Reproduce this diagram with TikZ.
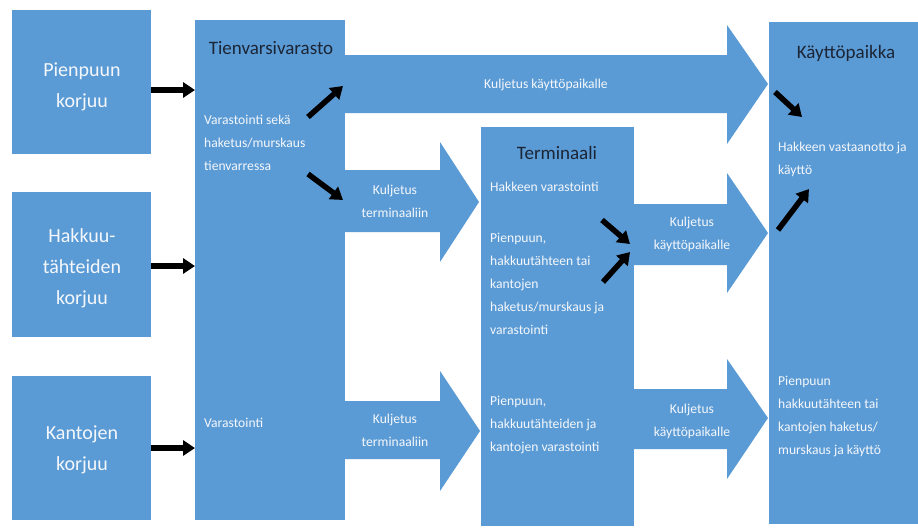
\documentclass[tikz,border=0pt]{standalone}
\usepackage{fontspec}
\setmainfont{Carlito}
\usetikzlibrary{arrows.meta}
\definecolor{boxblue}{HTML}{5B9BD5}
\definecolor{titlecol}{HTML}{1B2535}
\definecolor{txtcol}{HTML}{F4F7FB}
\begin{document}
\begin{tikzpicture}[x=1pt,y=-1pt,
  box/.style={fill=boxblue,draw=none,inner sep=0pt,anchor=north west},
  bigarrow/.style={fill=boxblue,draw=none},
  bigtxt/.style={text=txtcol,font=\fontsize{20}{31}\selectfont,align=center,inner sep=0pt},
  titletxt/.style={text=titlecol,font=\fontsize{19}{22}\selectfont,inner sep=0pt},
  smalltxt/.style={text=txtcol,font=\fontsize{13.6}{23}\selectfont,align=left,inner sep=0pt,anchor=west},
  ctrtxt/.style={text=txtcol,font=\fontsize{13.6}{23}\selectfont,align=center,inner sep=0pt},
  blk/.style={draw=black,line width=5.5pt,-{Triangle[length=12pt,width=15pt]}}
]
\useasboundingbox (0,0) rectangle (918,528);
\fill[white] (0,0) rectangle (918,528);

% big arrows
\fill[bigarrow] (345,55) -- (727,55) -- (727,25) -- (768,84) -- (727,144) -- (727,113) -- (345,113) -- cycle;
\fill[bigarrow] (345,170) -- (440,170) -- (440,142) -- (479,202) -- (440,262) -- (440,232) -- (345,232) -- cycle;
\fill[bigarrow] (634,204) -- (727,204) -- (727,173) -- (768,233) -- (727,293) -- (727,265) -- (634,265) -- cycle;
\fill[bigarrow] (345,401) -- (440,401) -- (440,371) -- (480,431) -- (440,491) -- (440,459) -- (345,459) -- cycle;
\fill[bigarrow] (634,389) -- (727,389) -- (727,359) -- (768,418) -- (727,479) -- (727,449) -- (634,449) -- cycle;

% boxes
\node[box,minimum width=139pt,minimum height=144pt] (pien) at (12,10) {};
\node[box,minimum width=139pt,minimum height=145pt] (hakk) at (12,192) {};
\node[box,minimum width=139pt,minimum height=144pt] (kant) at (12,376) {};
\node[box,minimum width=150pt,minimum height=500pt] (tien) at (195,20) {};
\node[box,minimum width=153pt,minimum height=399pt] (term) at (481,127) {};
\node[box,minimum width=149pt,minimum height=502pt] (kayt) at (769,22) {};

% box texts
\node[bigtxt] (tpien) at (82,87) {Pienpuun\\korjuu};
\node[bigtxt] (thakk) at (82,268) {Hakkuu-\\tähteiden\\korjuu};
\node[bigtxt] (tkant) at (82,450) {Kantojen\\korjuu};

\node[titletxt] (ttien) at (271,48) {Tienvarsivarasto};
\node[titletxt] (tterm) at (557,153) {Terminaali};
\node[titletxt] (tkayt) at (846,53) {Käyttöpaikka};

\node[smalltxt] (tien1) at (204,143) {Varastointi sekä\\haketus/murskaus\\tienvarressa};
\node[smalltxt] (tien2) at (204,423) {Varastointi};
\node[smalltxt] (term1) at (490,187) {Hakkeen varastointi};
\node[smalltxt] (term2) at (490,284) {Pienpuun,\\hakkuutähteen tai\\kantojen\\haketus/murskaus ja\\varastointi};
\node[smalltxt] (term3) at (490,425) {Pienpuun,\\hakkuutähteiden ja\\kantojen varastointi};
\node[smalltxt] (kayt1) at (778,159) {Hakkeen vastaanotto ja\\käyttö};
\node[smalltxt] (kayt2) at (778,416) {Pienpuun\\hakkuutähteen tai\\kantojen haketus/\\murskaus ja käyttö};

% arrow labels
\node[ctrtxt] (l1) at (546,85) {Kuljetus käyttöpaikalle};
\node[ctrtxt] (l2) at (395,201) {Kuljetus\\terminaaliin};
\node[ctrtxt] (l3) at (395,430) {Kuljetus\\terminaaliin};
\node[ctrtxt] (l4) at (692,234) {Kuljetus\\käyttöpaikalle};
\node[ctrtxt] (l5) at (692,421) {Kuljetus\\käyttöpaikalle};

% black arrows
\coordinate (a1s) at (308,117); \coordinate (a1e) at (343,86);
\coordinate (a2s) at (308,174); \coordinate (a2e) at (343,200);
\coordinate (a3s) at (602,220); \coordinate (a3e) at (630,244);
\coordinate (a4s) at (603,282); \coordinate (a4e) at (630,252);
\coordinate (a5s) at (775,92);  \coordinate (a5e) at (802,117);
\coordinate (a6s) at (778,230); \coordinate (a6e) at (809,189);

\draw[blk] (pien.east |- 0,90) -- (tien.west |- 0,90);
\draw[blk] (hakk.east |- 0,266) -- (tien.west |- 0,266);
\draw[blk] (kant.east |- 0,448) -- (tien.west |- 0,448);
\draw[blk] (a1s) -- (a1e);
\draw[blk] (a2s) -- (a2e);
\draw[blk] (a3s) -- (a3e);
\draw[blk] (a4s) -- (a4e);
\draw[blk] (a5s) -- (a5e);
\draw[blk] (a6s) -- (a6e);
\end{tikzpicture}
\end{document}
